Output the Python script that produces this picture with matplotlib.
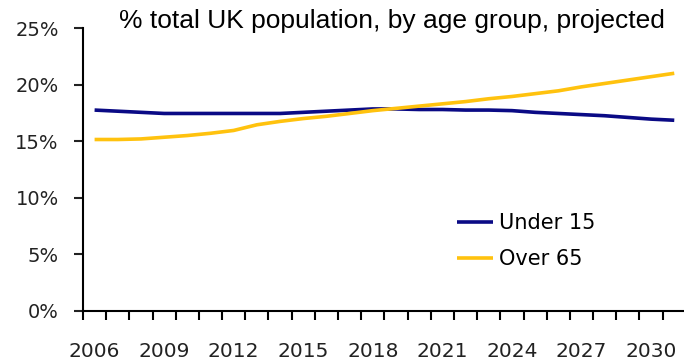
import matplotlib
matplotlib.use('Agg')
import matplotlib.pyplot as plt
import numpy as np

# data
years = list(range(2006, 2032))
under_15 = [17.75, 17.65, 17.55, 17.45, 17.45, 17.45, 17.45, 17.45, 17.45, 17.55,
            17.65, 17.75, 17.85, 17.85, 17.8, 17.8, 17.75, 17.75, 17.7, 17.55,
            17.45, 17.35, 17.25, 17.1, 16.95, 16.85]
over_65 = [15.15, 15.15, 15.2, 15.35, 15.5, 15.7, 15.95, 16.45, 16.75, 17.0,
           17.2, 17.45, 17.7, 17.9, 18.1, 18.3, 18.5, 18.75, 18.95, 19.2,
           19.45, 19.8, 20.1, 20.4, 20.7, 21.0]
y_ticks = [0, 5, 10, 15, 20, 25]
title = '% total UK population, by age group, projected'

navy = '#0a0a85'
gold = '#ffc20e'

fig = plt.figure(figsize=(6.84, 3.62), dpi=100)
ax = fig.add_axes([83 / 684, 51 / 362, 1 - 83 / 684, 283 / 362])

x = np.arange(len(years))
ax.plot(x, under_15, color=navy, lw=2.6, label='Under 15', solid_capstyle='butt')
ax.plot(x, over_65, color=gold, lw=2.6, label='Over 65', solid_capstyle='butt')

ax.set_ylim(0, 25)
ax.set_xlim(-0.5, 25.42)

# y axis
ax.set_yticks(y_ticks)
ax.set_yticklabels(['%d%%' % v for v in y_ticks])
ax.tick_params(axis='y', length=6.5, width=1.5, pad=11, labelsize=14, colors='#222222')

# x axis: labels every 3 years, tick marks between categories
ax.set_xticks(x[::3])
ax.set_xticklabels([str(y) for y in years[::3]])
ax.set_xticks(np.arange(len(years)) - 0.5, minor=True)
ax.tick_params(axis='x', which='major', length=0, pad=22, labelsize=14.5, colors='#222222')
ax.tick_params(axis='x', which='minor', length=6.5, width=1.5, direction='out')

for s in ['top', 'right']:
    ax.spines[s].set_visible(False)
for s in ['left', 'bottom']:
    ax.spines[s].set_linewidth(1.5)
    ax.spines[s].set_color('black')

fig.text(392 / 684, 1 - 21 / 362, title, ha='center', va='center',
         fontsize=19, family='Liberation Sans')

leg = ax.legend(loc='upper left', frameon=False, fontsize=15,
                handlelength=1.7, handletextpad=0.3, labelspacing=0.75,
                borderaxespad=0)
leg.set_bbox_to_anchor(((449 - 83) / 601, (311 - 205) / 283), transform=ax.transAxes)

fig.savefig('out.png', dpi=100)
